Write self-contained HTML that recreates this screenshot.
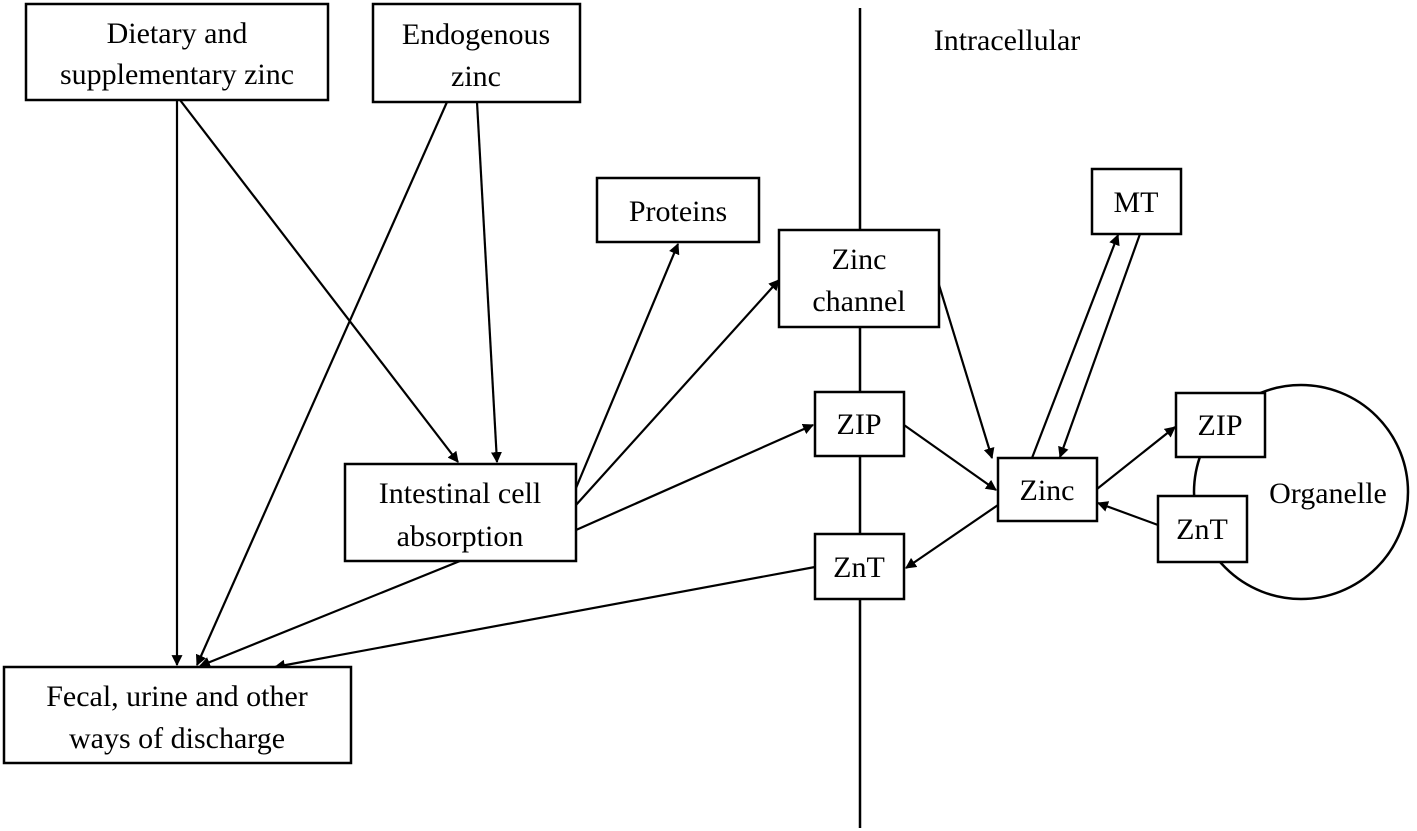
<!DOCTYPE html>
<html><head><meta charset="utf-8"><style>
html,body{margin:0;padding:0;background:#fff;}
svg{display:block;}
text{font-family:"Liberation Serif",serif;font-size:30px;fill:#000;text-anchor:middle;}
</style></head><body>
<svg width="1417" height="831" viewBox="0 0 1417 831" xmlns="http://www.w3.org/2000/svg">
<defs><marker id="a" viewBox="0 0 10 10" refX="9" refY="5" markerWidth="5" markerHeight="5" orient="auto"><path d="M0,0 L10,5 L0,10 z" fill="#000"/></marker></defs>
<g stroke="#000" stroke-width="2.5" fill="none">
<line x1="860" y1="8" x2="860" y2="828"/>
<circle cx="1301" cy="492" r="107" fill="#fff"/>
</g>
<g stroke="#000" stroke-width="2.2" fill="none" marker-end="url(#a)">
<line x1="177" y1="100" x2="177" y2="665"/>
<line x1="180" y1="100" x2="458" y2="462"/>
<line x1="447" y1="102" x2="197" y2="665"/>
<line x1="477" y1="102" x2="497" y2="462"/>
<line x1="576" y1="488" x2="678" y2="244"/>
<line x1="576" y1="505" x2="779" y2="280"/>
<line x1="576" y1="530" x2="813" y2="425"/>
<line x1="460" y1="561" x2="200" y2="666"/>
<line x1="815" y1="567" x2="275" y2="667"/>
<line x1="939" y1="285" x2="992" y2="458"/>
<line x1="904" y1="425" x2="996" y2="490"/>
<line x1="998" y1="505" x2="906" y2="568"/>
<line x1="1032" y1="458" x2="1118" y2="235"/>
<line x1="1140" y1="234" x2="1060" y2="457"/>
<line x1="1097" y1="489" x2="1175" y2="427"/>
<line x1="1158" y1="525" x2="1098" y2="503"/>
</g>
<g stroke="#000" stroke-width="2.5" fill="#fff">
<rect x="26" y="4" width="302" height="96"/>
<rect x="373" y="4" width="207" height="98"/>
<rect x="597" y="178" width="162" height="64"/>
<rect x="779" y="230" width="160" height="97"/>
<rect x="1092" y="169" width="89" height="65"/>
<rect x="815" y="392" width="89" height="64"/>
<rect x="345" y="464" width="231" height="97"/>
<rect x="998" y="458" width="99" height="63"/>
<rect x="1176" y="393" width="89" height="64"/>
<rect x="1158" y="496" width="89" height="66"/>
<rect x="815" y="534" width="89" height="65"/>
<rect x="4" y="667" width="347" height="96"/>
</g>
<text x="177" y="43">Dietary and</text>
<text x="177" y="84">supplementary zinc</text>
<text x="476" y="44">Endogenous</text>
<text x="476" y="86">zinc</text>
<text x="678" y="221">Proteins</text>
<text x="859" y="269">Zinc</text>
<text x="859" y="311">channel</text>
<text x="1136" y="212">MT</text>
<text x="859" y="434">ZIP</text>
<text x="460" y="503">Intestinal cell</text>
<text x="460" y="546">absorption</text>
<text x="1047" y="500">Zinc</text>
<text x="1220" y="435">ZIP</text>
<text x="1202" y="539">ZnT</text>
<text x="859" y="577">ZnT</text>
<text x="1328" y="503">Organelle</text>
<text x="1007" y="50">Intracellular</text>
<text x="177" y="706">Fecal, urine and other</text>
<text x="177" y="748">ways of discharge</text>
</svg>
</body></html>
